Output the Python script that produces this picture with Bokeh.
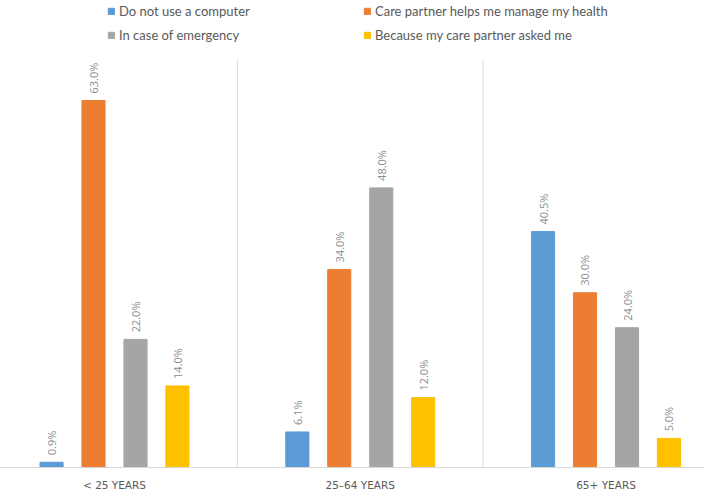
from math import pi
from bokeh.plotting import figure
from bokeh.models import ColumnDataSource, Range1d, Legend, LegendItem, Span
from bokeh.transform import dodge
from bokeh.core.properties import value
from bokeh.embed import file_html
from bokeh.resources import INLINE

groups = ["< 25 YEARS", "25\u201364 YEARS", "65+ YEARS"]
series = ["Do not use a computer", "Care partner helps me manage my health",
          "In case of emergency", "Because my care partner asked me"]
colors = ["#5B9BD5", "#ED7D31", "#A5A5A5", "#FFC000"]
no_computer = [0.9, 6.1, 40.5]
care_partner_helps = [63.0, 34.0, 30.0]
emergency = [22.0, 48.0, 24.0]
partner_asked = [14.0, 12.0, 5.0]
values = [no_computer, care_partner_helps, emergency, partner_asked]
y_max = 70

offsets = [-0.256, -0.0855, 0.0855, 0.256]
bar_w = 0.094

data = {"x": list(range(len(groups))), "group": groups}
for i, vals in enumerate(values):
    data[f"s{i}"] = vals
    data[f"l{i}"] = [f"{v:.1f}%" for v in vals]
src = ColumnDataSource(data)

W, H = 704, 496
p = figure(width=W, height=H, output_backend="svg", toolbar_location=None,
           x_range=Range1d(-0.4639, 2.4008), y_range=Range1d(-4.979, 80.17),
           x_axis_location=None, y_axis_location=None,
           min_border=0, min_border_left=0, min_border_right=0,
           min_border_top=0, min_border_bottom=0)
p.outline_line_color = None
p.grid.visible = False
p.background_fill_color = "white"

# separators between groups
bounds = [i + 0.5 for i in range(len(groups) - 1)]
p.segment(x0=bounds, x1=bounds, y0=[0] * len(bounds), y1=[y_max] * len(bounds),
          line_color="#D9D9D9", line_width=1)

# category axis line
p.add_layout(Span(location=0, dimension="width", line_color="#D9D9D9", line_width=1))

renderers = []
for i in range(len(series)):
    r = p.vbar(x=dodge("x", offsets[i], range=p.x_range), top=f"s{i}", bottom=0,
               width=bar_w, color=colors[i], source=src)
    renderers.append(r)
    p.text(x=dodge("x", offsets[i], range=p.x_range), y=f"s{i}", text=f"l{i}", source=src,
           angle=pi / 2, text_align="left", text_baseline="middle", y_offset=-7,
           text_font=value("Open Sans"), text_font_size="11px", text_color="#8C8C8C")

# category labels
p.text(x="x", y=0, text="group", source=src, y_offset=18, text_align="center",
       text_baseline="middle", text_font=value("DejaVu Sans"), text_font_size="10.5px",
       text_color="#595959")

def make_legend(idx, loc):
    lg = Legend(items=[LegendItem(label=series[i], renderers=[renderers[i]]) for i in idx],
                location=loc, orientation="vertical", glyph_width=8, glyph_height=8,
                label_height=12, label_standoff=4, spacing=8, padding=0, margin=0,
                label_text_font="Lato", label_text_font_size="13px",
                label_text_color="#595959", border_line_color=None,
                background_fill_alpha=0)
    p.add_layout(lg, "center")

make_legend([0, 2], (107, 453))
make_legend([1, 3], (363, 453))

open("out.html", "w").write(file_html(p, INLINE))
